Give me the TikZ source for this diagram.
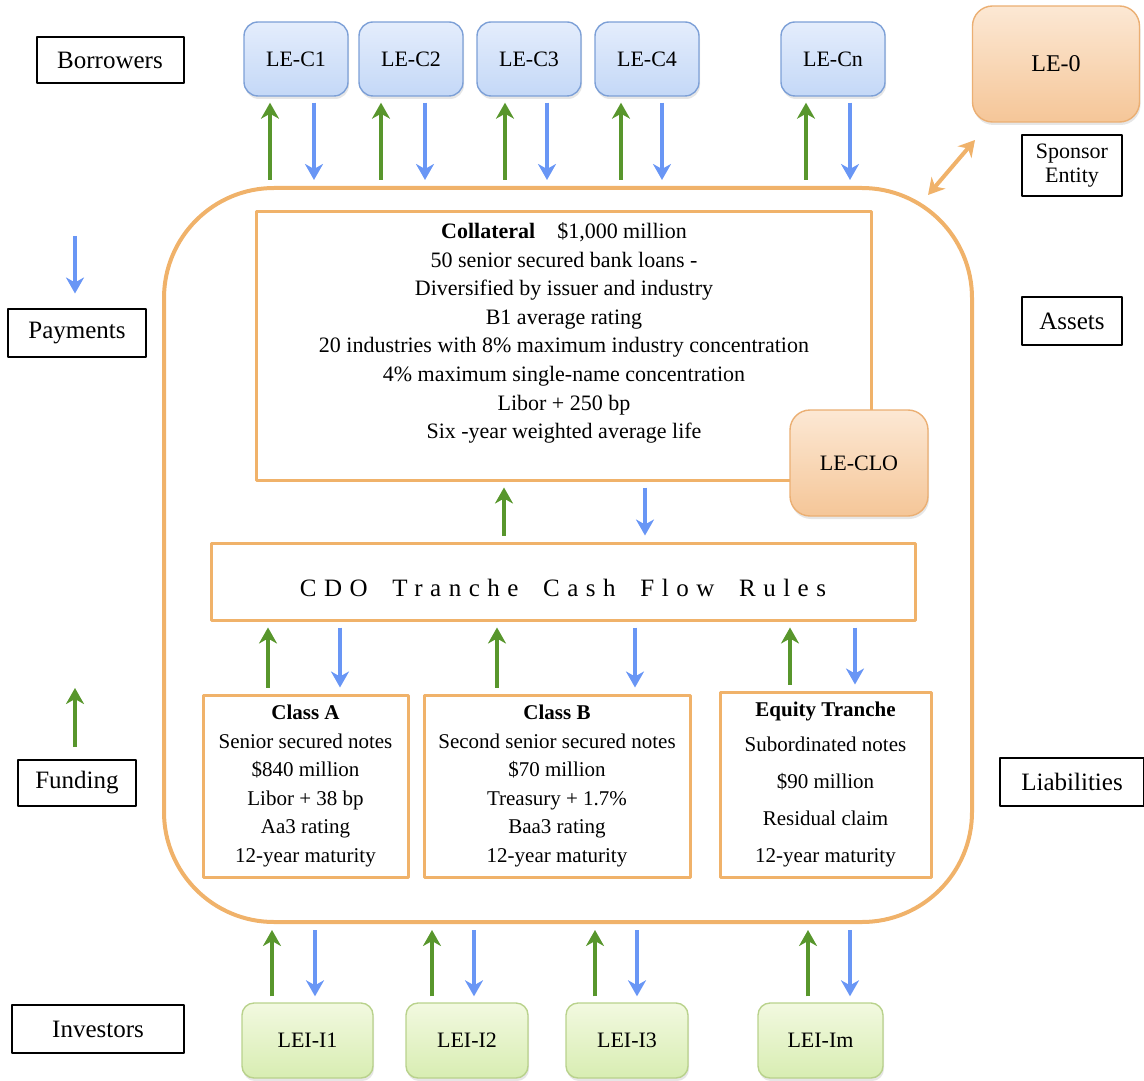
\documentclass[tikz,border=0pt]{standalone}
\usepackage{fontspec}
\setmainfont{Liberation Serif}
\newfontfamily\widefont[LetterSpace=30,WordSpace=1.8]{Liberation Serif}
\usetikzlibrary{arrows.meta,shadows}
\definecolor{arrowgreen}{RGB}{88,150,44}
\definecolor{arrowblue}{RGB}{105,150,245}
\definecolor{lineorange}{RGB}{240,178,106}
\definecolor{blueedge}{RGB}{125,160,215}
\definecolor{bluetop}{RGB}{228,237,252}
\definecolor{bluebot}{RGB}{196,216,247}
\definecolor{orangeedge}{RGB}{235,175,115}
\definecolor{orangetop}{RGB}{252,232,212}
\definecolor{orangebot}{RGB}{245,198,152}
\definecolor{greenedge}{RGB}{185,210,140}
\definecolor{greentop}{RGB}{242,249,224}
\definecolor{greenbot}{RGB}{216,237,178}
\begin{document}
\begin{tikzpicture}[x=0.5pt,y=-0.5pt,line join=round,
	tag/.style={draw,line width=1pt,inner sep=0pt,font=\fontsize{12.5}{14}\selectfont},
	soft/.style={drop shadow={opacity=0.2,shadow xshift=0.5pt,shadow yshift=-1.5pt}},
	borrower/.style={soft,draw=blueedge,line width=0.7pt,rounded corners=7pt,top color=bluetop,bottom color=bluebot,minimum width=52pt,minimum height=37pt,inner sep=0pt,font=\fontsize{11}{13}\selectfont},
	sponsor/.style={soft,draw=orangeedge,line width=0.7pt,rounded corners=10pt,top color=orangetop,bottom color=orangebot,inner sep=0pt,font=\fontsize{11}{13}\selectfont},
	investor/.style={soft,draw=greenedge,line width=0.7pt,rounded corners=6pt,top color=greentop,bottom color=greenbot,minimum height=37.5pt,inner sep=0pt,font=\fontsize{11}{13}\selectfont},
	orbox/.style={draw=lineorange,line width=1.5pt,inner sep=0pt,fill=white},
	tip/.style={-{Stealth[length=8pt,width=9pt,inset=2.5pt]}},
	up/.style={tip,arrowgreen,line width=2pt,shorten <=3pt,shorten >=3pt},
	down/.style={tip,arrowblue,line width=2pt,shorten <=3pt,shorten >=3pt}]
	\useasboundingbox (0,0) rectangle (1144,1080);
	% side labels
	\node[tag,minimum width=73.5pt,minimum height=23pt] (borrow) at (110,60) {Borrowers};
	\node[tag,minimum width=69pt,minimum height=23.5pt] (pay) at (77,333) {Payments};
	\node[tag,minimum width=59pt,minimum height=23pt] (fund) at (77,783) {Funding};
	\node[tag,minimum width=86pt,minimum height=24pt] (invest) at (98,1029) {Investors};
	\node[tag,minimum width=50pt,minimum height=24pt] (assets) at (1072,321) {Assets};
	\node[tag,minimum width=72pt,minimum height=24pt] (liab) at (1072,782) {Liabilities};
	\node[tag,minimum width=50pt,minimum height=30.5pt,align=center,font=\fontsize{11}{12}\selectfont] (sponsorlbl) at (1072,166) {Sponsor\\Entity};
	% borrowers and sponsor
	\node[borrower] (C1) at (296,59) {LE-C1};
	\node[borrower] (C2) at (411,59) {LE-C2};
	\node[borrower] (C3) at (529,59) {LE-C3};
	\node[borrower] (C4) at (647,59) {LE-C4};
	\node[borrower] (Cn) at (833,59) {LE-Cn};
	\node[sponsor,minimum width=83.5pt,minimum height=58pt,font=\fontsize{12}{14}\selectfont] (LE0) at (1056,64) {LE-0};
	% vehicle
	\node[draw=lineorange,line width=2pt,rounded corners=55pt,minimum width=404pt,minimum height=367pt] (spv) at (568,555) {};
	\node[orbox,minimum width=307.5pt,minimum height=134pt] (collat) at (563.5,346) {};
	\node[align=center,font=\fontsize{11}{14.3}\selectfont] (collattxt) at (564,333) {\textbf{Collateral}\quad\$1,000 million\\
		50 senior secured bank loans -\\
		Diversified by issuer and industry\\
		B1 average rating\\
		20 industries with 8\% maximum industry concentration\\
		4\% maximum single-name concentration\\
		Libor + 250 bp\\
		Six -year weighted average life};
	\node[sponsor,minimum width=69pt,minimum height=53pt] (CLO) at (859,463) {LE-CLO};
	\node[orbox,minimum width=352pt,minimum height=38.5pt,text height=15pt,text depth=0pt,font=\fontsize{12.5}{14}\widefont] (rules) at (563,581.5) {CDO Tranche Cash Flow Rules};
	\node[orbox,minimum width=102.5pt,minimum height=91pt,align=center,font=\fontsize{10.5}{14.25}\selectfont] (classA) at (305.5,786) {\textbf{Class A}\\Senior secured notes\\\$840 million\\Libor + 38 bp\\Aa3 rating\\12-year maturity};
	\node[orbox,minimum width=133pt,minimum height=91pt,align=center,font=\fontsize{10.5}{14.25}\selectfont] (classB) at (557,786) {\textbf{Class B}\\Second senior secured notes\\\$70 million\\Treasury + 1.7\%\\Baa3 rating\\12-year maturity};
	\node[orbox,minimum width=105.5pt,minimum height=92.5pt,align=center,font=\fontsize{10.5}{18.5}\selectfont] (equity) at (825.5,784.5) {\textbf{Equity Tranche}\\[-1pt]Subordinated notes\\\$90 million\\Residual claim\\12-year maturity};
	% investors
	\node[investor,minimum width=65.5pt] (I1) at (307.5,1040.5) {LEI-I1};
	\node[investor,minimum width=61pt] (I2) at (467,1040.5) {LEI-I2};
	\node[investor,minimum width=61pt] (I3) at (627,1040.5) {LEI-I3};
	\node[investor,minimum width=62.5pt] (Im) at (820.5,1040.5) {LEI-Im};
	% flows with borrowers
	\draw[up] (spv.north -| 270,0)--(C1.south -| 270,0); \draw[down] (C1.south -| 314,0)--(spv.north -| 314,0);
	\draw[up] (spv.north -| 381,0)--(C2.south -| 381,0); \draw[down] (C2.south -| 425,0)--(spv.north -| 425,0);
	\draw[up] (spv.north -| 505,0)--(C3.south -| 505,0); \draw[down] (C3.south -| 547,0)--(spv.north -| 547,0);
	\draw[up] (spv.north -| 621,0)--(C4.south -| 621,0); \draw[down] (C4.south -| 662,0)--(spv.north -| 662,0);
	\draw[up] (spv.north -| 806,0)--(Cn.south -| 806,0); \draw[down] (Cn.south -| 850,0)--(spv.north -| 850,0);
	% inside the vehicle
	\draw[up] (rules.north -| 504,0)--(collat.south -| 504,0); \draw[down] (collat.south -| 645,0)--(rules.north -| 645,0);
	\draw[up] (classA.north -| 268,0)--(rules.south -| 268,0); \draw[down] (rules.south -| 340,0)--(classA.north -| 340,0);
	\draw[up] (classB.north -| 497,0)--(rules.south -| 497,0); \draw[down] (rules.south -| 635,0)--(classB.north -| 635,0);
	\draw[up] (equity.north -| 790,0)--(rules.south -| 790,0); \draw[down] (rules.south -| 855,0)--(equity.north -| 855,0);
	% flows with investors
	\draw[up] (I1.north -| 272,0)--(spv.south -| 272,0); \draw[down] (spv.south -| 315,0)--(I1.north -| 315,0);
	\draw[up] (I2.north -| 432,0)--(spv.south -| 432,0); \draw[down] (spv.south -| 474,0)--(I2.north -| 474,0);
	\draw[up] (I3.north -| 595,0)--(spv.south -| 595,0); \draw[down] (spv.south -| 637,0)--(I3.north -| 637,0);
	\draw[up] (Im.north -| 808,0)--(spv.south -| 808,0); \draw[down] (spv.south -| 850,0)--(Im.north -| 850,0);
	% legend arrows
	\coordinate (payfrom) at (75,230);
	\coordinate (fundto) at (75,682);
	\draw[down,shorten >=7.5pt] (payfrom)--(pay.north -| payfrom);
	\draw[up,shorten <=6pt] (fund.north -| fundto)--(fundto);
	% sponsor link
	\coordinate (spvlink) at (928,195);
	\coordinate (sponsorlink) at (975,140);
	\draw[lineorange,line width=2pt,{Stealth[length=8pt,width=9pt,inset=2.5pt]}-{Stealth[length=8pt,width=9pt,inset=2.5pt]}] (spvlink)--(sponsorlink);
\end{tikzpicture}
\end{document}
